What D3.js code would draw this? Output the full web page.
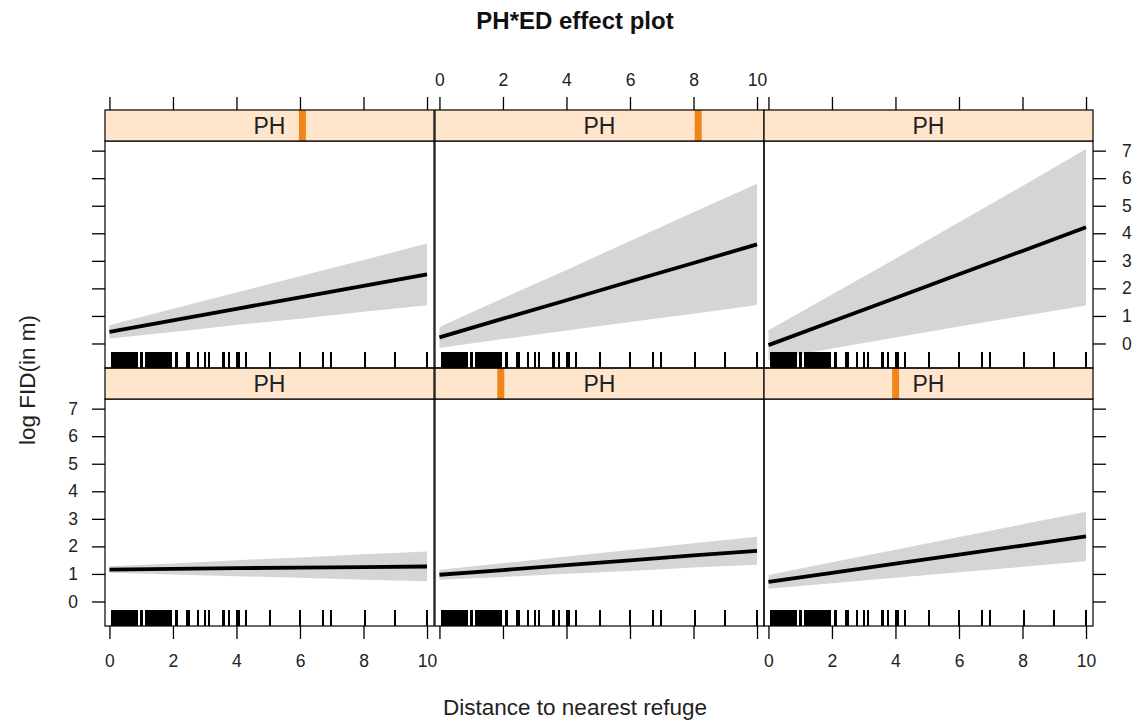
<!DOCTYPE html>
<html>
<head>
<meta charset="utf-8">
<script src="https://cdn.jsdelivr.net/npm/d3@7"></script>
<style>
  html, body { margin: 0; padding: 0; background: #ffffff; }
  svg { display: block; font-family: "Liberation Sans", Arial, sans-serif; }
</style>
</head>
<body>
<svg id="chart" width="1141" height="723"></svg>
<script>
// Effect of distance to refuge on log FID, conditioned on PH (six panels)
const xGrid = [0, 2, 4, 6, 8, 10];

// PH level of each panel, as a fraction of its range (drawn as the strip marker)
const phLevels = [0, 0.2, 0.4, 0.6, 0.8, 1.0];

// fitted values and confidence band at xGrid, one array per panel
const fit0   = [1.16, 1.18, 1.21, 1.23, 1.25, 1.27];
const lower0 = [1.04, 0.98, 0.92, 0.86, 0.79, 0.73];
const upper0 = [1.28, 1.38, 1.50, 1.60, 1.71, 1.81];

const fit1   = [0.97, 1.14, 1.32, 1.49, 1.67, 1.84];
const lower1 = [0.79, 0.89, 1.01, 1.11, 1.23, 1.33];
const upper1 = [1.15, 1.39, 1.63, 1.87, 2.11, 2.35];

const fit2   = [0.71, 1.04, 1.37, 1.70, 2.03, 2.36];
const lower2 = [0.46, 0.66, 0.86, 1.06, 1.26, 1.46];
const upper2 = [0.96, 1.42, 1.88, 2.34, 2.80, 3.26];

const fit3   = [0.42, 0.84, 1.26, 1.67, 2.09, 2.51];
const lower3 = [0.18, 0.42, 0.67, 0.90, 1.15, 1.39];
const upper3 = [0.66, 1.26, 1.85, 2.44, 3.03, 3.63];

const fit4   = [0.22, 0.90, 1.57, 2.25, 2.92, 3.60];
const lower4 = [-0.16, 0.16, 0.47, 0.78, 1.08, 1.40];
const upper4 = [0.60, 1.64, 2.67, 3.72, 4.76, 5.80];

const fit5   = [-0.06, 0.80, 1.65, 2.51, 3.36, 4.22];
const lower5 = [-0.60, -0.18, 0.22, 0.62, 1.00, 1.38];
const upper5 = [0.48, 1.78, 3.08, 4.40, 5.72, 7.06];

// observed distances (rug)
const rugValues = [
  0.07, 0.11, 0.15, 0.19, 0.23, 0.27, 0.31, 0.35, 0.39, 0.43, 0.47, 0.51,
  0.55, 0.59, 0.63, 0.67, 0.71, 0.75, 0.79, 0.83, 0.86,
  0.98, 1.02,
  1.15, 1.19, 1.23, 1.27, 1.31, 1.35, 1.39, 1.43, 1.47, 1.51, 1.55, 1.59,
  1.63, 1.67, 1.71, 1.75, 1.79, 1.83, 1.87, 1.91, 1.95,
  2.10, 2.12, 2.45, 2.48, 2.52, 2.80, 3.01, 3.13, 3.56, 3.62, 3.75,
  4.02, 4.06, 4.09, 4.29, 5.05, 5.99, 6.73, 6.99, 8.04, 8.98, 10.0
];

const xTicks = [0, 2, 4, 6, 8, 10];
const yTicks = [0, 1, 2, 3, 4, 5, 6, 7];
const stripLabel = "PH";
const titleText = "PH*ED effect plot";
const xLabel = "Distance to nearest refuge";
const yLabel = "log FID(in m)";

const panels = [
  { fit: fit0, lower: lower0, upper: upper0, level: phLevels[0] },
  { fit: fit1, lower: lower1, upper: upper1, level: phLevels[1] },
  { fit: fit2, lower: lower2, upper: upper2, level: phLevels[2] },
  { fit: fit3, lower: lower3, upper: upper3, level: phLevels[3] },
  { fit: fit4, lower: lower4, upper: upper4, level: phLevels[4] },
  { fit: fit5, lower: lower5, upper: upper5, level: phLevels[5] }
];

// ---- layout ----
const colLeft = [105, 435, 764];
const colWidth = 329;
const rowStripTop = [368, 110];   // row 0 = bottom, row 1 = top
const stripH = 31;
const panelH = 227;
const xDomain = [-0.14, 10.22];
const yDomain = [-0.89, 7.35];
const tickLen = 13;

const svg = d3.select("#chart");
const font = "Liberation Sans, Arial, sans-serif";

const bandColor = "#d5d5d5";
const stripColor = "#ffe5cc";
const markerColor = "#f0851a";

panels.forEach((p, i) => {
  const col = i % 3;
  const row = Math.floor(i / 3);
  const x0 = colLeft[col];
  const sTop = rowStripTop[row];
  const pTop = sTop + stripH;

  const x = d3.scaleLinear().domain(xDomain).range([x0, x0 + colWidth]);
  const y = d3.scaleLinear().domain(yDomain).range([pTop + panelH, pTop]);

  const g = svg.append("g");
  const clipId = "clip" + i;
  svg.append("clipPath").attr("id", clipId)
    .append("rect").attr("x", x0).attr("y", pTop).attr("width", colWidth).attr("height", panelH);

  const pts = xGrid.map((xv, k) => ({ x: xv, f: p.fit[k], lo: p.lower[k], hi: p.upper[k] }));

  const inner = g.append("g").attr("clip-path", `url(#${clipId})`);

  // confidence band
  inner.append("path")
    .datum(pts)
    .attr("fill", bandColor)
    .attr("d", d3.area().x(d => x(d.x)).y0(d => y(d.lo)).y1(d => y(d.hi)));

  // fitted effect
  inner.append("path")
    .datum(pts)
    .attr("fill", "none")
    .attr("stroke", "#000")
    .attr("stroke-width", 3.8)
    .attr("d", d3.line().x(d => x(d.x)).y(d => y(d.f)));

  // rug
  inner.selectAll("line.rug")
    .data(rugValues)
    .join("line")
    .attr("class", "rug")
    .attr("x1", d => x(d)).attr("x2", d => x(d))
    .attr("y1", pTop + panelH).attr("y2", pTop + panelH - 16)
    .attr("stroke", "#000").attr("stroke-width", 2)
    .attr("shape-rendering", "crispEdges");

  // panel border
  g.append("rect")
    .attr("x", x0).attr("y", pTop).attr("width", colWidth).attr("height", panelH)
    .attr("fill", "none").attr("stroke", "#000").attr("stroke-width", 1.2);

  // strip
  const sg = g.append("g");
  const sClip = "sclip" + i;
  svg.append("clipPath").attr("id", sClip)
    .append("rect").attr("x", x0).attr("y", sTop).attr("width", colWidth).attr("height", stripH);
  sg.append("rect")
    .attr("x", x0).attr("y", sTop).attr("width", colWidth).attr("height", stripH)
    .attr("fill", stripColor);
  const sx = d3.scaleLinear().domain([0, 1]).range([x0, x0 + colWidth]);
  if (p.level > 0 && p.level < 1) {
    sg.append("rect")
      .attr("clip-path", `url(#${sClip})`)
      .attr("x", sx(p.level) - 3.5).attr("y", sTop).attr("width", 7).attr("height", stripH)
      .attr("fill", markerColor);
  }
  sg.append("text")
    .attr("x", x0 + colWidth / 2).attr("y", sTop + stripH / 2 + 8.5)
    .attr("text-anchor", "middle")
    .attr("font-size", 23).attr("fill", "#222")
    .text(stripLabel);
  sg.append("rect")
    .attr("x", x0).attr("y", sTop).attr("width", colWidth).attr("height", stripH)
    .attr("fill", "none").attr("stroke", "#000").attr("stroke-width", 1.2);

  // x axes: bottom row gets bottom ticks, top row gets top ticks
  if (row === 0) {
    const ax = d3.axisBottom(x).tickValues(xTicks).tickSize(tickLen).tickPadding(16)
      .tickFormat(col === 1 ? "" : d3.format("d"));
    const a = svg.append("g").attr("transform", `translate(0,${pTop + panelH})`).call(ax);
    styleAxis(a);
  } else {
    const ax = d3.axisTop(x).tickValues(xTicks).tickSize(tickLen).tickPadding(11)
      .tickFormat(col === 1 ? d3.format("d") : "");
    const a = svg.append("g").attr("transform", `translate(0,${sTop})`).call(ax);
    styleAxis(a);
  }

  // y axes on outer columns
  if (col === 0) {
    const ay = d3.axisLeft(y).tickValues(yTicks).tickSize(tickLen).tickPadding(14)
      .tickFormat(row === 0 ? d3.format("d") : "");
    const a = svg.append("g").attr("transform", `translate(${x0},0)`).call(ay);
    styleAxis(a);
  }
  if (col === 2) {
    const ay = d3.axisRight(y).tickValues(yTicks).tickSize(tickLen).tickPadding(16)
      .tickFormat(row === 1 ? d3.format("d") : "");
    const a = svg.append("g").attr("transform", `translate(${x0 + colWidth},0)`).call(ay);
    styleAxis(a);
  }
});

function styleAxis(a) {
  a.select(".domain").remove();
  a.selectAll(".tick line").attr("stroke", "#000").attr("stroke-width", 1.3);
  a.selectAll(".tick text").attr("fill", "#222").attr("font-size", 17.5).attr("font-family", font);
}

// title and axis labels
svg.append("text")
  .attr("x", 575).attr("y", 29)
  .attr("text-anchor", "middle")
  .attr("font-size", 24).attr("font-weight", "bold").attr("fill", "#111")
  .text(titleText);

svg.append("text")
  .attr("x", 575).attr("y", 715)
  .attr("text-anchor", "middle")
  .attr("font-size", 22.5).attr("fill", "#222")
  .text(xLabel);

svg.append("text")
  .attr("transform", "translate(35,380) rotate(-90)")
  .attr("text-anchor", "middle")
  .attr("font-size", 22.5).attr("fill", "#222")
  .text(yLabel);
</script>
</body>
</html>
